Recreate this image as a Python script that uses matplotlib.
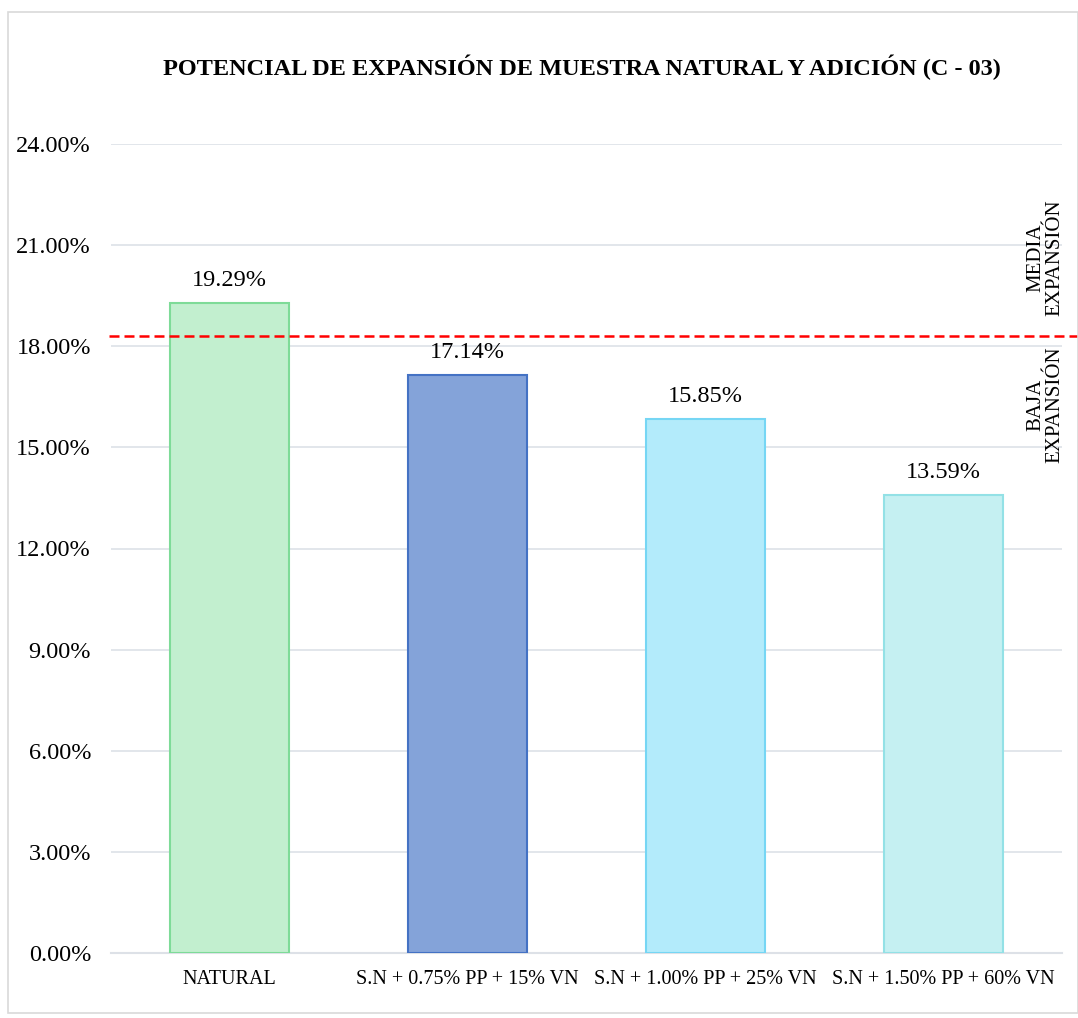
import numpy as np
import matplotlib.pyplot as plt
from matplotlib.patches import Rectangle
from matplotlib.ticker import FuncFormatter

plt.rcParams['font.family'] = ['Liberation Serif', 'DejaVu Serif']

# Datos
categorias = ['NATURAL', 'S.N + 0.75% PP + 15% VN', 'S.N + 1.00% PP + 25% VN', 'S.N + 1.50% PP + 60% VN']
valores = [19.29, 17.14, 15.85, 13.59]
limite = 18.30  # limite entre baja y media expansion
colores = ['#C2EFCF', '#84A3D9', '#B3EBFB', '#C5F0F2']
bordes = ['#7EDB98', '#4472C4', '#76D6F4', '#93E1E6']

fig = plt.figure(figsize=(10.78, 10.18), dpi=100)
ax = fig.add_axes([110.5/1078, 1 - 953/1018, (1062 - 110.5)/1078, (953 - 144)/1018])

# marco gris de la figura
fig.patches.append(Rectangle((8/1078, 5/1018), 1 - 8/1078, 1 - 17/1018, transform=fig.transFigure,
                             fill=False, edgecolor='#D9D9D9', linewidth=1.2))

x = np.arange(len(categorias))
ax.bar(x, valores, width=0.5, color=colores, edgecolor=bordes, linewidth=1.5, zorder=3)

for xi, v in zip(x, valores):
    ax.text(xi, v + 0.35, f'{v:.2f}%', ha='center', va='bottom', fontsize=17.5)

ax.set_ylim(0, 24)
ax.set_xlim(-0.5, 3.5)
ax.set_yticks(np.arange(0, 24.1, 3))
ax.yaxis.set_major_formatter(FuncFormatter(lambda v, p: f'{v:.2f}%'))
ax.set_xticks(x)
ax.set_xticklabels(categorias, fontsize=14.5)
ax.tick_params(axis='y', labelsize=17.5, length=0, pad=14)
ax.tick_params(axis='x', length=0, pad=12)
ax.grid(axis='y', color='#DDE1E7', linewidth=1.2, zorder=0)
for s in ['top', 'right', 'left']:
    ax.spines[s].set_visible(False)
ax.spines['bottom'].set_color('#DDE1E7')
ax.spines['bottom'].set_linewidth(1.5)

# linea limite
ax.axhline(limite, xmin=-0.002, xmax=1.017, color='#FF0000', linestyle=(0, (4, 2)),
           linewidth=1.8, clip_on=False, zorder=4)

ax.text(3.43, 20.62, 'MEDIA\nEXPANSIÓN', rotation=90, ha='center', va='center',
        fontsize=15, linespacing=1.05, zorder=5)
ax.text(3.43, 16.26, 'BAJA\nEXPANSIÓN', rotation=90, ha='center', va='center',
        fontsize=15, linespacing=1.05, zorder=5)

fig.text(0.54, 1 - 67/1018, 'POTENCIAL DE EXPANSIÓN DE MUESTRA NATURAL Y ADICIÓN (C - 03)',
         ha='center', va='center', fontsize=17.5, fontweight='bold')

fig.savefig('out.png', dpi=100)
